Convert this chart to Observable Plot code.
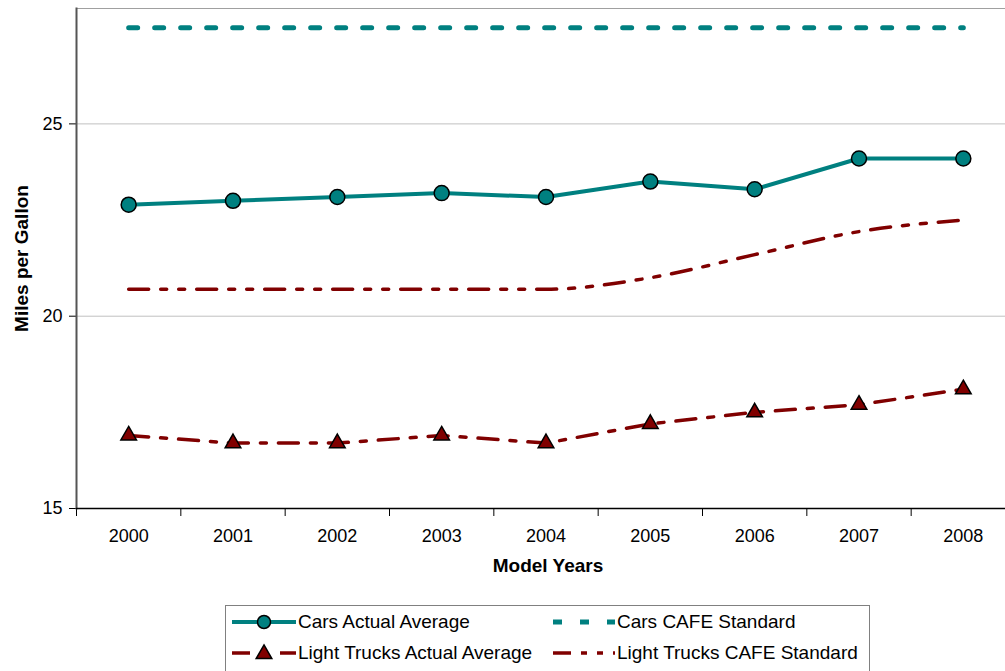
<!DOCTYPE html>
<html>
<head>
<meta charset="utf-8">
<script src="https://cdn.jsdelivr.net/npm/d3@7"></script>
<script src="https://cdn.jsdelivr.net/npm/@observablehq/plot@0.6"></script>
<style>
  html, body { margin: 0; padding: 0; background: #fff; }
  #wrap { position: relative; width: 1005px; height: 671px; overflow: hidden; font-family: "Liberation Sans", Arial, sans-serif; }
  #chart svg { max-width: none !important; display: block; }
  #legend { position: absolute; left: 225px; top: 605px; width: 645px; height: 80px; border: 1px solid #808080; box-sizing: border-box; background: #fff; }
  .item { position: absolute; display: flex; align-items: center; font-size: 19px; color: #000; height: 24px; white-space: nowrap; }
  .item svg { margin-right: 2px; }
</style>
</head>
<body>
<div id="wrap">
  <div id="chart"></div>
  <div id="legend"></div>
</div>
<script>
const years = ["2000", "2001", "2002", "2003", "2004", "2005", "2006", "2007", "2008"];
const carsActual = [22.9, 23.0, 23.1, 23.2, 23.1, 23.5, 23.3, 24.1, 24.1];
const carsCafe = [27.5, 27.5, 27.5, 27.5, 27.5, 27.5, 27.5, 27.5, 27.5];
const trucksActual = [16.9, 16.7, 16.7, 16.9, 16.7, 17.2, 17.5, 17.7, 18.1];
const trucksCafe = [20.7, 20.7, 20.7, 20.7, 20.7, 21.0, 21.6, 22.2, 22.5];
const yTicks = [15, 20, 25];
const seriesNames = ["Cars Actual Average", "Cars CAFE Standard", "Light Trucks Actual Average", "Light Trucks CAFE Standard"];

const TEAL = "#008080", RED = "#800000";
const styles = {
  "Cars Actual Average": {stroke: TEAL, strokeWidth: 4, dash: null, marker: "circle"},
  "Cars CAFE Standard": {stroke: TEAL, strokeWidth: 5, dash: "9,17", marker: null},
  "Light Trucks Actual Average": {stroke: RED, strokeWidth: 3.5, dash: "20,12,6,12", marker: "triangle"},
  "Light Trucks CAFE Standard": {stroke: RED, strokeWidth: 3.5, dash: "20,12,6,12,6,12", marker: null}
};

const rows = (vals, name) => years.map((y, i) => ({year: y, value: vals[i], series: name}));
const dCarsA = rows(carsActual, seriesNames[0]);
const dCarsC = rows(carsCafe, seriesNames[1]);
const dTruckA = rows(trucksActual, seriesNames[2]);
const dTruckC = rows(trucksCafe, seriesNames[3]);

// plot area runs slightly past the right edge of the picture (cropped like the original)
const W = 1015, H = 590, mL = 76, mR = 0, mT = 8, mB = 82;
const step = (W - mL - mR) / years.length;

const chart = Plot.plot({
  width: W, height: H,
  marginLeft: mL, marginRight: mR, marginTop: mT, marginBottom: mB,
  style: {fontFamily: "'Liberation Sans', Arial, sans-serif", fontSize: "18px", color: "#000", background: "#fff", maxWidth: "none"},
  x: {type: "point", domain: years, padding: 0.5, round: false, label: null},
  y: {domain: [15, 28], label: null},
  marks: [
    Plot.frame({stroke: "#a0a0a0"}),
    Plot.ruleY(yTicks.slice(1), {stroke: "#c0c0c0", strokeWidth: 1}),
    Plot.axisY({ticks: yTicks, tickSize: 7, tickPadding: 7, label: null, stroke: "#000"}),
    Plot.axisX({tickSize: 0, tickPadding: 21, label: null}),
    Plot.axisX({ticks: years, tickSize: 8, text: null, dx: -step / 2, label: null, stroke: "#000"}),
    Plot.frame({anchor: "left", stroke: "#555", strokeWidth: 2}),
    Plot.ruleY([15], {stroke: "#000", strokeWidth: 1.5}),
    Plot.line(dCarsC, {x: "year", y: "value", stroke: TEAL, strokeWidth: 5, strokeDasharray: styles[seriesNames[1]].dash}),
    Plot.line(dTruckC, {x: "year", y: "value", stroke: RED, strokeWidth: 3.5, strokeDasharray: styles[seriesNames[3]].dash, curve: "monotone-x"}),
    Plot.line(dTruckA, {x: "year", y: "value", stroke: RED, strokeWidth: 3.5, strokeDasharray: styles[seriesNames[2]].dash}),
    Plot.line(dCarsA, {x: "year", y: "value", stroke: TEAL, strokeWidth: 4}),
    Plot.dot(dCarsA, {x: "year", y: "value", r: 7.5, fill: TEAL, stroke: "#000", strokeWidth: 1.5}),
    Plot.dot(dTruckA, {x: "year", y: "value", r: 5.8, symbol: "triangle", fill: RED, stroke: "#000", strokeWidth: 1.5}),
    Plot.text(["Miles per Gallon"], {text: d => d, frameAnchor: "left", textAnchor: "middle", rotate: -90, dx: -55, fontWeight: "bold", fontSize: 19}),
    Plot.text(["Model Years"], {text: d => d, x: () => years[4], textAnchor: "middle", frameAnchor: "bottom", dy: 63, dx: 2, fontWeight: "bold", fontSize: 19})
  ]
});
document.getElementById("chart").appendChild(chart);

// Legend
const legend = document.getElementById("legend");
const positions = [[6, 4], [327, 4], [6, 35], [327, 35]];
seriesNames.forEach((name, i) => {
  const s = styles[name];
  const item = document.createElement("div");
  item.className = "item";
  item.style.left = positions[i][0] + "px";
  item.style.top = positions[i][1] + "px";
  const sw = i % 2 === 0 ? 64 : 62;
  let svg = `<svg width="${sw}" height="20" viewBox="0 0 ${sw} 20">`;
  const dash = i === 1 ? "9,18" : i === 2 ? "18,12,6,12" : i === 3 ? "18,10,6,10,6,10" : null;
  svg += `<line x1="0" y1="10" x2="${sw}" y2="10" stroke="${s.stroke}" stroke-width="${s.strokeWidth}"${dash ? ` stroke-dasharray="${dash}"` : ""}/>`;
  if (s.marker === "circle") svg += `<circle cx="${sw / 2}" cy="10" r="6.5" fill="${s.stroke}" stroke="#000" stroke-width="1.5"/>`;
  if (s.marker === "triangle") svg += `<path d="${d3.symbol(d3.symbolTriangle, 5.8 * 5.8 * Math.PI)()}" transform="translate(${sw / 2},11)" fill="${s.stroke}" stroke="#000" stroke-width="1.5"/>`;
  svg += `</svg>`;
  item.innerHTML = svg + `<span>${name}</span>`;
  legend.appendChild(item);
});
</script>
</body>
</html>
